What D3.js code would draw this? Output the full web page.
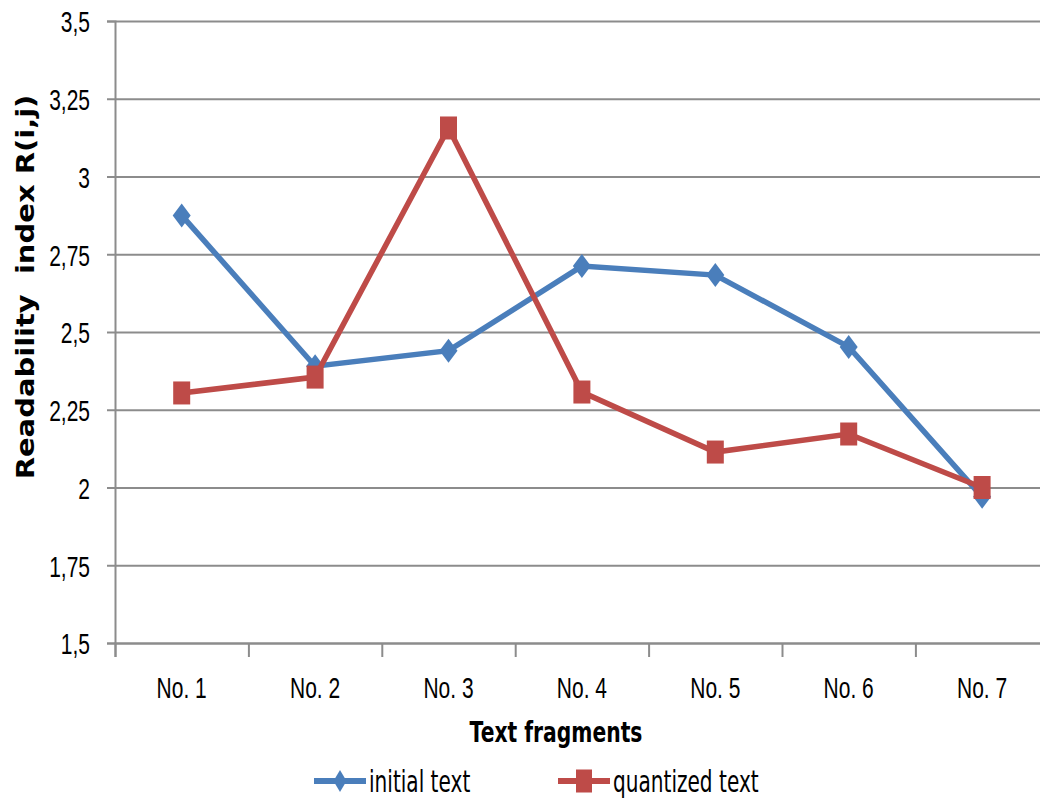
<!DOCTYPE html>
<html>
<head>
<meta charset="utf-8">
<script src="https://cdn.jsdelivr.net/npm/d3@7"></script>
<style>
  body { margin: 0; background: #fff; }
  svg { display: block; font-family: "DejaVu Sans", Verdana, sans-serif; }
</style>
</head>
<body>
<div id="chart"></div>
<script>
const fragments = ["No. 1", "No. 2", "No. 3", "No. 4", "No. 5", "No. 6", "No. 7"];
const initialText = [2.875, 2.39, 2.44, 2.712, 2.683, 2.452, 1.97];
const quantizedText = [2.304, 2.355, 3.156, 2.307, 2.114, 2.172, 2.0];
const yTicks = [1.5, 1.75, 2, 2.25, 2.5, 2.75, 3, 3.25, 3.5];

const W = 1040, H = 798;
const margin = { top: 21, left: 115, bottom: 155 };
const plotH = H - margin.top - margin.bottom;   // 622
const step = 133.4;
const plotRight = margin.left + fragments.length * step;
const squish = 0.7; // the reference is horizontally compressed

const blue = "#4a7ebb", red = "#be4b48", grid = "#8c8c8c";

const svg = d3.select("#chart").append("svg")
    .attr("width", W)
    .attr("height", H);

const x = d3.scaleBand()
    .domain(fragments)
    .range([margin.left, plotRight]);

const xb = d3.scaleLinear()
    .domain([0, fragments.length])
    .range([margin.left, plotRight]);

const y = d3.scaleLinear()
    .domain([1.5, 3.5])
    .range([margin.top + plotH, margin.top]);

// gridlines
svg.append("g")
    .attr("transform", `translate(${margin.left},0)`)
    .call(d3.axisRight(y).tickValues(yTicks).tickSize(W - margin.left).tickFormat(""))
    .call(g => g.select(".domain").remove())
    .call(g => g.selectAll("line").attr("stroke", grid).attr("stroke-width", 2));

// y axis
svg.append("g")
    .attr("transform", `translate(${margin.left},0)`)
    .call(d3.axisLeft(y).tickValues(yTicks).tickSize(8)
        .tickFormat(d => String(d).replace(".", ",")))
    .call(g => g.select(".domain").attr("stroke", grid).attr("stroke-width", 2))
    .call(g => g.selectAll("line").attr("stroke", grid).attr("stroke-width", 2))
    .call(g => g.selectAll("text")
        .attr("x", -25 / squish)
        .attr("dy", "0.36em")
        .attr("transform", `scale(${squish},1)`)
        .style("font-size", "30px")
        .attr("fill", "#000"));

// x axis boundary ticks
svg.append("g")
    .attr("transform", `translate(0,${margin.top + plotH})`)
    .call(d3.axisBottom(xb).tickValues(d3.range(0, fragments.length + 1)).tickSize(14).tickFormat(""))
    .call(g => g.select(".domain").attr("stroke", grid).attr("stroke-width", 2))
    .call(g => g.selectAll("line").attr("stroke", grid).attr("stroke-width", 2));

// x axis labels
svg.append("g")
    .attr("transform", `translate(0,${margin.top + plotH})`)
    .call(d3.axisBottom(x).tickSize(0).tickPadding(34))
    .call(g => g.select(".domain").remove())
    .call(g => g.selectAll("text")
        .attr("transform", `scale(${squish},1)`)
        .style("font-size", "30px")
        .attr("fill", "#000"));

// axis titles
svg.append("text")
    .attr("transform", `translate(556,742) scale(${squish},1)`)
    .attr("text-anchor", "middle")
    .style("font-size", "29px")
    .style("font-weight", "bold")
    .text("Text fragments");

svg.append("text")
    .attr("transform", "translate(34,287) rotate(-90) scale(1,0.88)")
    .attr("text-anchor", "middle")
    .style("font-size", "29px")
    .style("font-weight", "bold")
    .style("white-space", "pre")
    .text("Readability  index R(i,j)");

// series
const line = d3.line()
    .x((d, i) => x(fragments[i]) + x.bandwidth() / 2)
    .y(d => y(d));

const diamond = (w, h) => `M0,${-h / 2}L${w / 2},0L0,${h / 2}L${-w / 2},0Z`;

svg.append("path")
    .datum(initialText)
    .attr("fill", "none")
    .attr("stroke", blue)
    .attr("stroke-width", 5.5)
    .attr("d", line);

svg.selectAll(".dia")
    .data(initialText)
    .enter().append("path")
    .attr("class", "dia")
    .attr("transform", (d, i) => `translate(${x(fragments[i]) + x.bandwidth() / 2},${y(d)})`)
    .attr("d", diamond(18, 24))
    .attr("fill", blue);

svg.append("path")
    .datum(quantizedText)
    .attr("fill", "none")
    .attr("stroke", red)
    .attr("stroke-width", 5.5)
    .attr("d", line);

svg.selectAll(".sq")
    .data(quantizedText)
    .enter().append("rect")
    .attr("class", "sq")
    .attr("x", (d, i) => x(fragments[i]) + x.bandwidth() / 2 - 8.5)
    .attr("y", d => y(d) - 11.5)
    .attr("width", 17)
    .attr("height", 23)
    .attr("fill", red);

// legend
const legend = [
    { name: "initial text", color: blue, shape: "diamond", x: 314 },
    { name: "quantized text", color: red, shape: "square", x: 558 }
];
const ly = 781;
const lg = svg.selectAll(".legend")
    .data(legend)
    .enter().append("g")
    .attr("class", "legend")
    .attr("transform", d => `translate(${d.x},${ly})`);

lg.append("line")
    .attr("x1", 0).attr("x2", 52)
    .attr("stroke", d => d.color)
    .attr("stroke-width", 6);

lg.filter(d => d.shape === "diamond").append("path")
    .attr("transform", "translate(26,0)")
    .attr("d", diamond(13, 22))
    .attr("fill", d => d.color);

lg.filter(d => d.shape === "square").append("rect")
    .attr("x", 18).attr("y", -11.5)
    .attr("width", 16).attr("height", 23)
    .attr("fill", d => d.color);

lg.append("text")
    .attr("transform", `translate(55,0) scale(0.67,1)`)
    .attr("dy", "0.36em")
    .style("font-size", "30px")
    .text(d => d.name);
</script>
</body>
</html>
